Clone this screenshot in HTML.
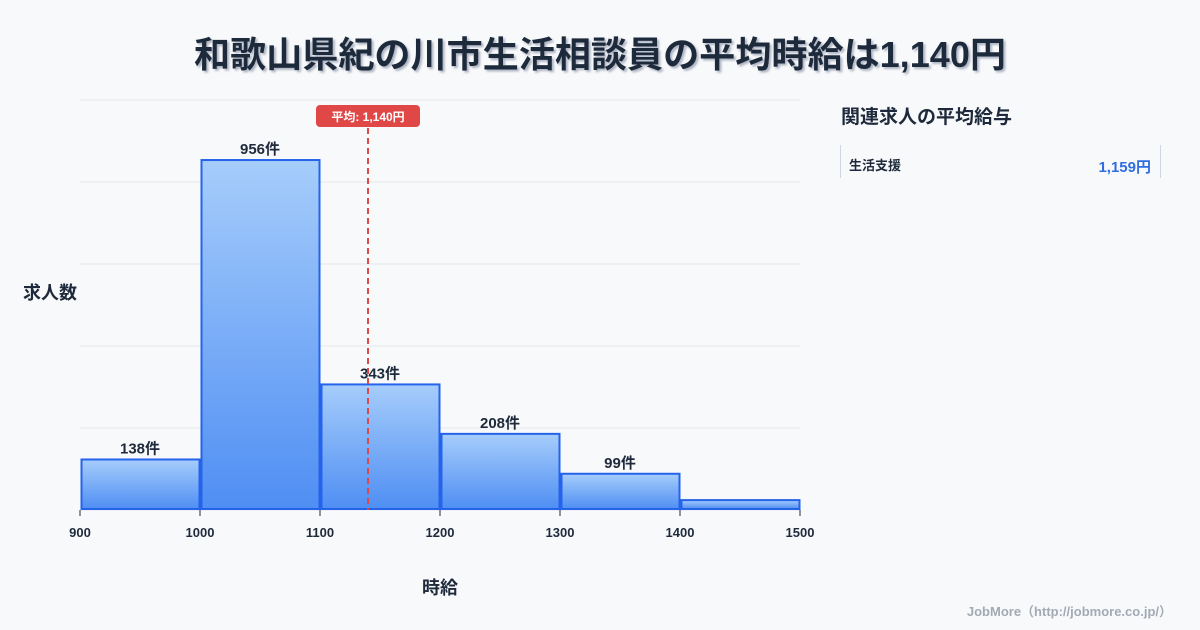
<!DOCTYPE html>
<html><head><meta charset="utf-8"><style>
body{margin:0;width:1200px;height:630px;background:#f8f9fb;font-family:"Liberation Sans","Noto Sans CJK JP",sans-serif;overflow:hidden;position:relative}
svg{position:absolute;left:0;top:0}
</style></head><body>
<svg width="1200" height="630">
<defs>
<linearGradient id="g" x1="0" y1="0" x2="0" y2="1"><stop offset="0" stop-color="#a6cdfb"/><stop offset="1" stop-color="#4f8ef3"/></linearGradient>
<filter id="sh"><feDropShadow dx="2" dy="2" stdDeviation="1" flood-color="#9aa3b5" flood-opacity="0.8"/></filter>
</defs>
<text x="600" y="67" text-anchor="middle" font-size="36" font-weight="bold" fill="#1e2a3b" filter="url(#sh)" textLength="812" lengthAdjust="spacingAndGlyphs">和歌山県紀の川市生活相談員の平均時給は1,140円</text>
<g id="grid"></g><g id="bars"></g><g id="xt"></g>
<text x="50" y="299" text-anchor="middle" font-size="18" font-weight="bold" fill="#1e2a3b">求人数</text>
<text x="440" y="594" text-anchor="middle" font-size="18" font-weight="bold" fill="#1e2a3b">時給</text>
<g id="mean"></g>
<text x="841" y="123" font-size="19" font-weight="bold" fill="#1e2a3b">関連求人の平均給与</text>
<line x1="840.5" y1="145" x2="840.5" y2="178" stroke="#d0d6df"/>
<line x1="1160.5" y1="145" x2="1160.5" y2="178" stroke="#d0d6df"/>
<text x="849" y="170" font-size="13" font-weight="bold" fill="#1e2a3b">生活支援</text>
<text x="1151" y="172" text-anchor="end" font-size="15" font-weight="bold" fill="#2f6de0">1,159円</text>
<text x="1172" y="616" text-anchor="end" font-size="13" font-weight="bold" fill="#a3aab5">JobMore（http://jobmore.co.jp/）</text>
</svg>
<script>
const binStarts=[900,1000,1100,1200,1300,1400];
const counts=[138,956,343,208,99,27];
const showLabel=[true,true,true,true,true,false];
const xTicks=[900,1000,1100,1200,1300,1400,1500];
const meanValue=1140;
const meanLabel="平均: 1,140円";
const X0=80,X1=800,Y0=510,Y1=100,xMin=900,xMax=1500,yMax=1120;
const xs=v=>X0+(v-xMin)/(xMax-xMin)*(X1-X0);
const ys=v=>Y0-v/yMax*(Y0-Y1);
const NS="http://www.w3.org/2000/svg";
function mk(t,a,p){const e=document.createElementNS(NS,t);for(const k in a)e.setAttribute(k,a[k]);p.appendChild(e);return e;}
const grid=document.getElementById('grid');
for(let i=0;i<=5;i++){const y=Y0-i*(Y0-Y1)/5;
const l=mk('line',{x1:X0,x2:X1,y1:y,y2:y,stroke:'#e3e7ed'},grid);

}
const bars=document.getElementById('bars');
binStarts.forEach((b,i)=>{
const x=xs(b)+1.5,w=xs(b+100)-xs(b)-2,y=ys(counts[i]);
const r=mk('rect',{x:x,y:y,width:w,height:Y0-y-1,fill:'url(#g)',stroke:'#2563eb','stroke-width':2},bars);


if(showLabel[i]){const t=mk('text',{x:xs(b+50),y:y-6,'text-anchor':'middle','font-size':15,'font-weight':'bold',fill:'#1e2a3b'},bars);t.textContent=counts[i]+'件';

}
});
const xt=document.getElementById('xt');
xTicks.forEach(v=>{const l=mk('line',{x1:xs(v),x2:xs(v),y1:Y0,y2:Y0+6,stroke:'#1e2a3b'},xt);


const t=mk('text',{x:xs(v),y:537,'text-anchor':'middle','font-size':13,'font-weight':'bold',fill:'#1e2a3b'},xt);t.textContent=v;

});
const mg=document.getElementById('mean');const mx=xs(meanValue);
const ml=mk('line',{x1:mx,x2:mx,y1:128,y2:Y0,stroke:'#e04848','stroke-width':2,'stroke-dasharray':'6,4'},mg);


const mr=mk('rect',{x:mx-52,y:105,width:104,height:22,rx:4,fill:'#e04848'},mg);


const mt=mk('text',{x:mx,y:121,'text-anchor':'middle','font-size':12,'font-weight':'bold',fill:'#fff'},mg);mt.textContent=meanLabel;


</script>
</body></html>
